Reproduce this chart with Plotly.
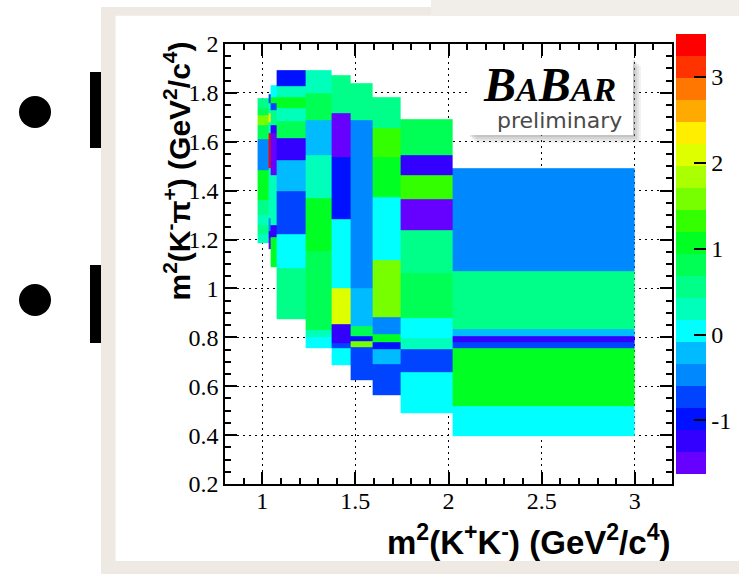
import plotly.graph_objects as go

# ---------------- data (adaptive-binning Dalitz map) ----------------
# x bin edges of the columns: m^2(K+K-)
kk_edges = [0.975, 1.035, 1.043, 1.078, 1.232, 1.371, 1.473, 1.590, 1.741, 2.021, 2.997]

# y bin edges (top -> bottom) and cell values for every column: m^2(K-pi+)
y_A = [1.780, 1.739, 1.708, 1.668, 1.612, 1.482, 1.361, 1.300, 1.257, 1.224, 1.185]
z_A = [0.56, 0.81, 1.58, 0.81, -0.47, 1.07, 0.56, 0.30, 0.56, 0.30]

y_B = [1.795, 1.759, 1.716, 1.681, 1.634, 1.492, 1.286, 1.236, 1.206, 1.162]
z_B = [-0.72, 0.30, 2.35, 0.30, 3.37, 0.30, -0.47, -1.24, -1.49]

y_B2 = [1.831, 1.783, 1.756, 1.729, 1.668, 1.634, 1.463, 1.259, 1.211, 1.088]
z_B2 = [0.04, 1.07, -0.72, 0.56, -1.24, -1.49, 0.30, -1.24, 1.07]

y_C = [1.893, 1.827, 1.783, 1.738, 1.684, 1.616, 1.525, 1.398, 1.222, 1.084, 0.875]
z_C = [-0.98, 0.30, 1.07, 0.30, 0.81, -1.24, -0.21, -0.72, 0.04, 0.56]

y_D = [1.893, 1.797, 1.688, 1.545, 1.370, 1.153, 0.830, 0.802, 0.755]
z_D = [0.30, 0.81, -0.21, 0.30, 1.07, 0.81, 0.30, 0.04]

y_E = [1.872, 1.716, 1.538, 1.283, 1.003, 0.854, 0.778, 0.757, 0.686]
z_E = [0.56, -1.49, -0.98, 0.04, 2.09, -1.24, -0.72, 0.04]

y_F = [1.841, 1.688, 1.003, 0.846, 0.805, 0.785, 0.759, 0.625]
z_F = [0.56, -0.47, -0.21, 0.81, -0.98, 1.58, -0.72]

y_G = [1.783, 1.654, 1.538, 1.375, 1.116, 0.881, 0.813, 0.782, 0.752, 0.691, 0.564]
z_G = [0.56, 1.32, 1.07, 0.04, 1.58, -0.47, 1.07, -0.98, -0.21, -0.72]

y_H = [1.691, 1.545, 1.463, 1.365, 1.238, 1.064, 0.880, 0.798, 0.751, 0.659, 0.489]
z_H = [0.81, -1.24, 1.32, -1.49, 0.56, 0.81, 0.04, 0.30, -0.72, 0.04]

y_I = [1.491, 1.071, 0.834, 0.805, 0.782, 0.757, 0.520, 0.396]
z_I = [-0.47, 0.56, -0.21, -1.24, -0.72, 1.07, 0.04]

col_y = [y_A, y_B, y_B2, y_C, y_D, y_E, y_F, y_G, y_H, y_I]
col_z = [z_A, z_B, z_B2, z_C, z_D, z_E, z_F, z_G, z_H, z_I]

x_ticks = [1, 1.5, 2, 2.5, 3]
x_ticklabels = ["1", "1.5", "2", "2.5", "3"]
cb_ticks = [-1, 0, 1, 2, 3]
cb_ticklabels = ["-1", "0", "1", "2", "3"]
z_min, z_max = -1.62, 3.5

palette = ["#6600ff", "#3300ff", "#0011ff", "#0044ff", "#0088ff", "#00bbff",
           "#00ffff", "#00ffbb", "#00ff88", "#00ff55", "#00ff22", "#33ff00",
           "#77ff00", "#aaff00", "#ddff00", "#ffee00", "#ffaa00", "#ff7700",
           "#ff3300", "#ff0000"]

# ---------------- build a common grid from the variable bins ----------------
ys = sorted(set(round(v, 4) for col in col_y for v in col))
ys_clean = []
for v in ys:
    if not ys_clean or v - ys_clean[-1] > 1e-4:
        ys_clean.append(v)
xs = kk_edges

zgrid = []
for j in range(len(ys_clean) - 1):
    yc = 0.5 * (ys_clean[j] + ys_clean[j + 1])
    row = []
    for i in range(len(xs) - 1):
        edges = col_y[i]
        vals = col_z[i]
        val = None
        for k in range(len(vals)):
            hi, lo = edges[k], edges[k + 1]
            if lo <= yc < hi:
                val = vals[k]
                break
        row.append(val)
    zgrid.append(row)

n = len(palette)
cscale = []
for k, c in enumerate(palette):
    cscale.append([k / n, c])
    cscale.append([(k + 1) / n, c])

# ---------------- figure ----------------
L, R, T, B = 225, 67, 44, 90
W, H = 739, 574
PW, PH = W - L - R, H - T - B


def px(xp):
    return (xp - L) / PW


def py(yp):
    return (H - B - yp) / PH


fig = go.Figure()
fig.add_trace(go.Heatmap(
    x=xs, y=ys_clean, z=zgrid,
    zmin=z_min, zmax=z_max, colorscale=cscale, zsmooth=False,
    hoverongaps=False,
    colorbar=dict(
        xref="container", yref="container",
        x=676 / W, xanchor="left", y=1 - 44 / H, yanchor="top",
        thickness=30, thicknessmode="pixels", lenmode="pixels", len=440,
        outlinewidth=0, tickvals=cb_ticks, ticktext=cb_ticklabels,
        ticks="inside", ticklen=12, tickwidth=1.5, tickcolor="black",
        tickfont=dict(family="Liberation Serif", size=24, color="black"),
        ypad=0, xpad=0,
    ),
))

tickfont = dict(family="Liberation Serif", size=24, color="black")
fig.update_xaxes(
    range=[0.8, 3.2], tickvals=x_ticks, ticktext=x_ticklabels,
    ticks="inside", ticklen=12, tickwidth=1.5, tickcolor="black",
    minor=dict(dtick=0.1, tick0=0, ticks="inside", ticklen=6, tickwidth=1.5,
               tickcolor="black", showgrid=False),
    showline=True, linewidth=1.5, linecolor="black", mirror="allticks",
    showgrid=True, gridcolor="black", gridwidth=1, griddash="2px,4px",
    zeroline=False, tickfont=tickfont, ticklabelstandoff=-6,
)
fig.update_yaxes(
    range=[0.2, 2], dtick=0.2, tick0=0,
    ticks="inside", ticklen=12, tickwidth=1.5, tickcolor="black",
    minor=dict(dtick=0.05, tick0=0, ticks="inside", ticklen=6, tickwidth=1.5,
               tickcolor="black", showgrid=False),
    showline=True, linewidth=1.5, linecolor="black", mirror="allticks",
    showgrid=True, gridcolor="black", gridwidth=1, griddash="2px,4px",
    zeroline=False, tickfont=tickfont,
)

beige = "#eeeae3"
shapes = []


def rect(x0, y0, x1, y1, color, layer="below", line=None, opacity=1.0):
    shapes.append(dict(type="rect", xref="paper", yref="paper",
                       x0=px(x0), x1=px(x1), y0=py(y1), y1=py(y0),
                       fillcolor=color, opacity=opacity,
                       line=dict(width=0) if line is None else line,
                       layer=layer))


# slide frame
rect(101, 7, 115.5, 574, beige)
rect(101, 7, 739, 15.7, beige)
rect(431, 0, 739, 15.7, "#f1eee9")
rect(101, 561, 739, 574, beige)

# slide bullets and bars
for cy, (b0, b1) in [(112, (72, 148)), (300, (265, 343))]:
    shapes.append(dict(type="circle", xref="paper", yref="paper",
                       x0=px(19), x1=px(51), y0=py(cy + 16), y1=py(cy - 16),
                       fillcolor="black", line=dict(width=0)))
    rect(90, b0, 101, b1, "black", layer="above")

# BaBar logo box with soft shadow
for off, op in [(8, 0.10), (6, 0.12), (4, 0.15), (2, 0.2)]:
    rect(468 + off, 58 + off, 633 + off, 135 + off, "#808080", layer="above",
         opacity=op)
rect(468, 58, 633, 135, "white", layer="above")

annotations = [
    dict(xref="paper", yref="paper", x=px(549), y=py(84), xanchor="center",
         yanchor="middle", showarrow=False,
         text="<b><i>B<span style='font-size:34px'>A</span>B"
              "<span style='font-size:34px'>AR</span></i></b>",
         font=dict(family="Liberation Serif", size=48, color="black")),
    dict(xref="paper", yref="paper", x=px(559), y=py(120), xanchor="center",
         yanchor="middle", showarrow=False, text="preliminary",
         font=dict(family="DejaVu Sans", size=22, color="#4a4a4a")),
    dict(xref="paper", yref="paper", x=px(672), y=py(540), xanchor="right",
         yanchor="middle", showarrow=False,
         text="<b>m<sup>2</sup>(K<sup>+</sup>K<sup>-</sup>) (GeV<sup>2</sup>/c<sup>4</sup>)</b>",
         font=dict(family="Liberation Sans", size=33, color="black")),
    dict(xref="paper", yref="paper", x=px(177), y=py(40), xanchor="center",
         yanchor="top", showarrow=False, textangle=-90,
         text="<b>m<sup>2</sup>(K<sup>-</sup>\u03c0<sup>+</sup>) (GeV<sup>2</sup>/c<sup>4</sup>)</b>",
         font=dict(family="Liberation Sans", size=30, color="black")),
]

fig.update_layout(
    width=W, height=H,
    margin=dict(l=L, r=R, t=T, b=B, pad=0, autoexpand=False),
    paper_bgcolor="white", plot_bgcolor="white",
    shapes=shapes, annotations=annotations, showlegend=False,
)

fig.write_html("out.html", config={"displayModeBar": False},
               post_script="document.body.style.margin='0px';"
                           "document.body.style.padding='0px';")
